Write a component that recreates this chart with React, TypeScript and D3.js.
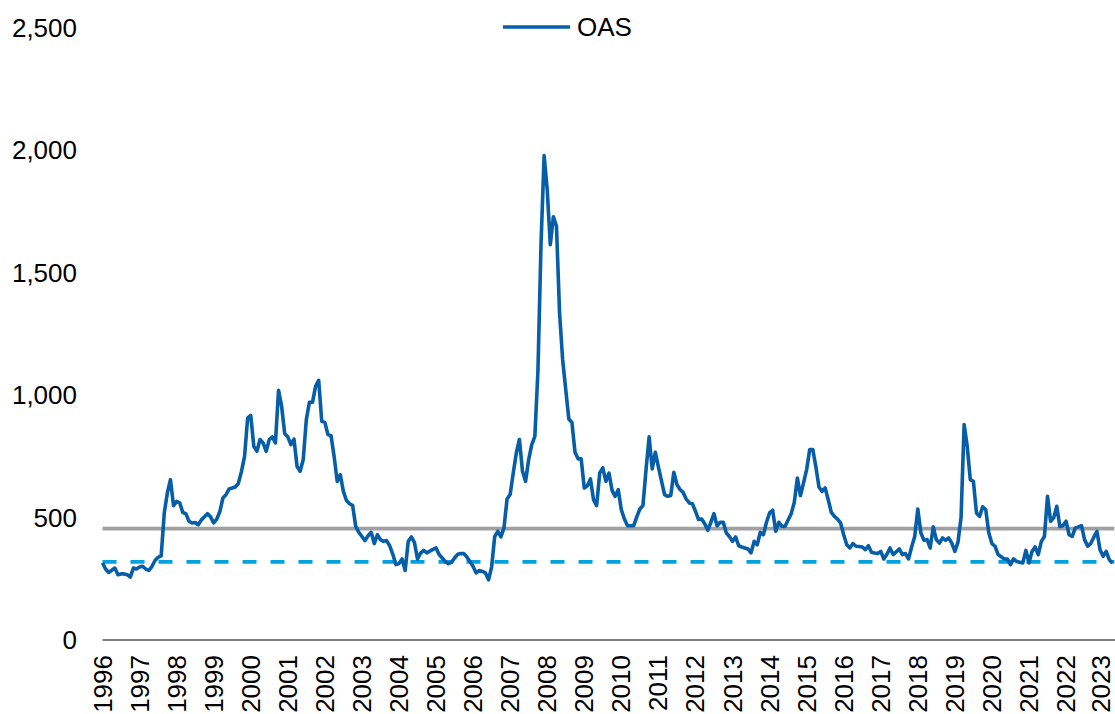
import React from "react";
import * as d3 from "d3";

const yearLabels = ["1996","1997","1998","1999","2000","2001","2002","2003","2004","2005","2006","2007","2008","2009","2010","2011","2012","2013","2014","2015","2016","2017","2018","2019","2020","2021","2022","2023"];

const yTicks = [0, 500, 1000, 1500, 2000, 2500];

// monthly OAS values (bp), first value at the "1996" label
const oas = [
  315,290,276,285,294,267,270,270,267,257,294,290,298,301,290,284,300,325,338,344,
  519,601,655,549,566,560,521,516,485,478,480,471,490,503,516,503,478,494,525,580,
  594,617,621,625,640,689,750,907,917,791,771,819,805,771,819,830,805,1020,955,843,
  830,798,821,709,689,737,900,971,971,1036,1061,893,889,839,835,750,648,675,607,570,
  557,549,464,440,423,406,426,440,394,430,410,403,406,385,350,308,312,331,284,403,
  421,399,331,355,366,356,363,370,376,349,335,320,312,317,335,350,353,353,339,320,
  300,274,284,280,274,246,298,423,444,421,458,576,594,682,764,819,689,648,737,798,
  832,1100,1620,1979,1840,1615,1729,1690,1336,1145,1023,903,889,767,740,740,621,630,658,573,
  549,682,703,648,682,611,587,614,532,494,467,467,467,503,535,549,696,830,699,767,
  707,650,594,587,590,685,635,615,603,576,560,557,526,492,494,475,448,481,516,467,
  481,481,437,423,403,421,385,380,376,372,356,403,389,440,430,481,519,530,444,481,
  464,464,490,516,562,662,590,642,696,778,778,707,625,607,621,573,521,505,494,478,
  430,389,376,394,383,382,380,369,385,358,355,353,362,331,350,376,349,360,372,349,
  353,331,380,423,535,437,407,410,376,462,410,396,417,407,417,396,362,399,499,880,
  791,655,648,519,505,544,532,437,394,383,349,340,331,331,308,331,321,318,315,366,
  315,362,380,349,403,423,587,485,499,546,464,467,485,430,423,458,462,467,410,383,
  394,420,444,369,342,362,328,315
];

const meanValue = 455;
const lowValue = 319;

const W = 1115;
const H = 714;
const FONT = "'Liberation Sans', Arial, sans-serif";

export default function App() {
  const x = d3.scaleLinear().domain([0, (yearLabels.length - 1) * 12]).range([102.5, 1103.1]);
  const y = d3.scaleLinear().domain([0, 2500]).range([640, 28]);
  const line = d3
    .line<number>()
    .x((_, i) => x(i))
    .y((d) => y(d))
    .curve(d3.curveLinear);

  const x0 = x(0);
  const x1 = x(oas.length - 1);

  return (
    <div style={{ position: "absolute", left: 0, top: 0 }}>
      <svg width={W} height={H} style={{ display: "block", background: "#fff" }} fontFamily={FONT}>
        {yTicks.map((t) => (
          <text key={t} x={77} y={y(t)} textAnchor="end" dominantBaseline="central" fontSize={26} fill="#000">
            {d3.format(",")(t)}
          </text>
        ))}
        <line x1={x0} x2={x1 + 2} y1={y(meanValue)} y2={y(meanValue)} stroke="#a0a0a2" strokeWidth={3.6} />
        <line x1={x0} x2={x1 + 2} y1={y(lowValue)} y2={y(lowValue)} stroke="#00a3e0" strokeWidth={3.6} strokeDasharray="14 14" />
        <path d={line(oas) || ""} fill="none" stroke="#065ea8" strokeWidth={3.6} strokeLinejoin="round" />
        <line x1={x0} x2={W} y1={y(0)} y2={y(0)} stroke="#000" strokeWidth={1.2} />
        {yearLabels.map((lab, i) => (
          <text
            key={lab}
            transform={`translate(${Math.min(x(i * 12), 1101)},655) rotate(-90)`}
            textAnchor="end"
            dominantBaseline="central"
            fontSize={26}
            fill="#000"
          >
            {lab}
          </text>
        ))}
        <line x1={503} x2={570} y1={27} y2={27} stroke="#065ea8" strokeWidth={3.6} />
        <text x={577} y={27} dominantBaseline="central" fontSize={26} fill="#000">
          OAS
        </text>
      </svg>
    </div>
  );
}
